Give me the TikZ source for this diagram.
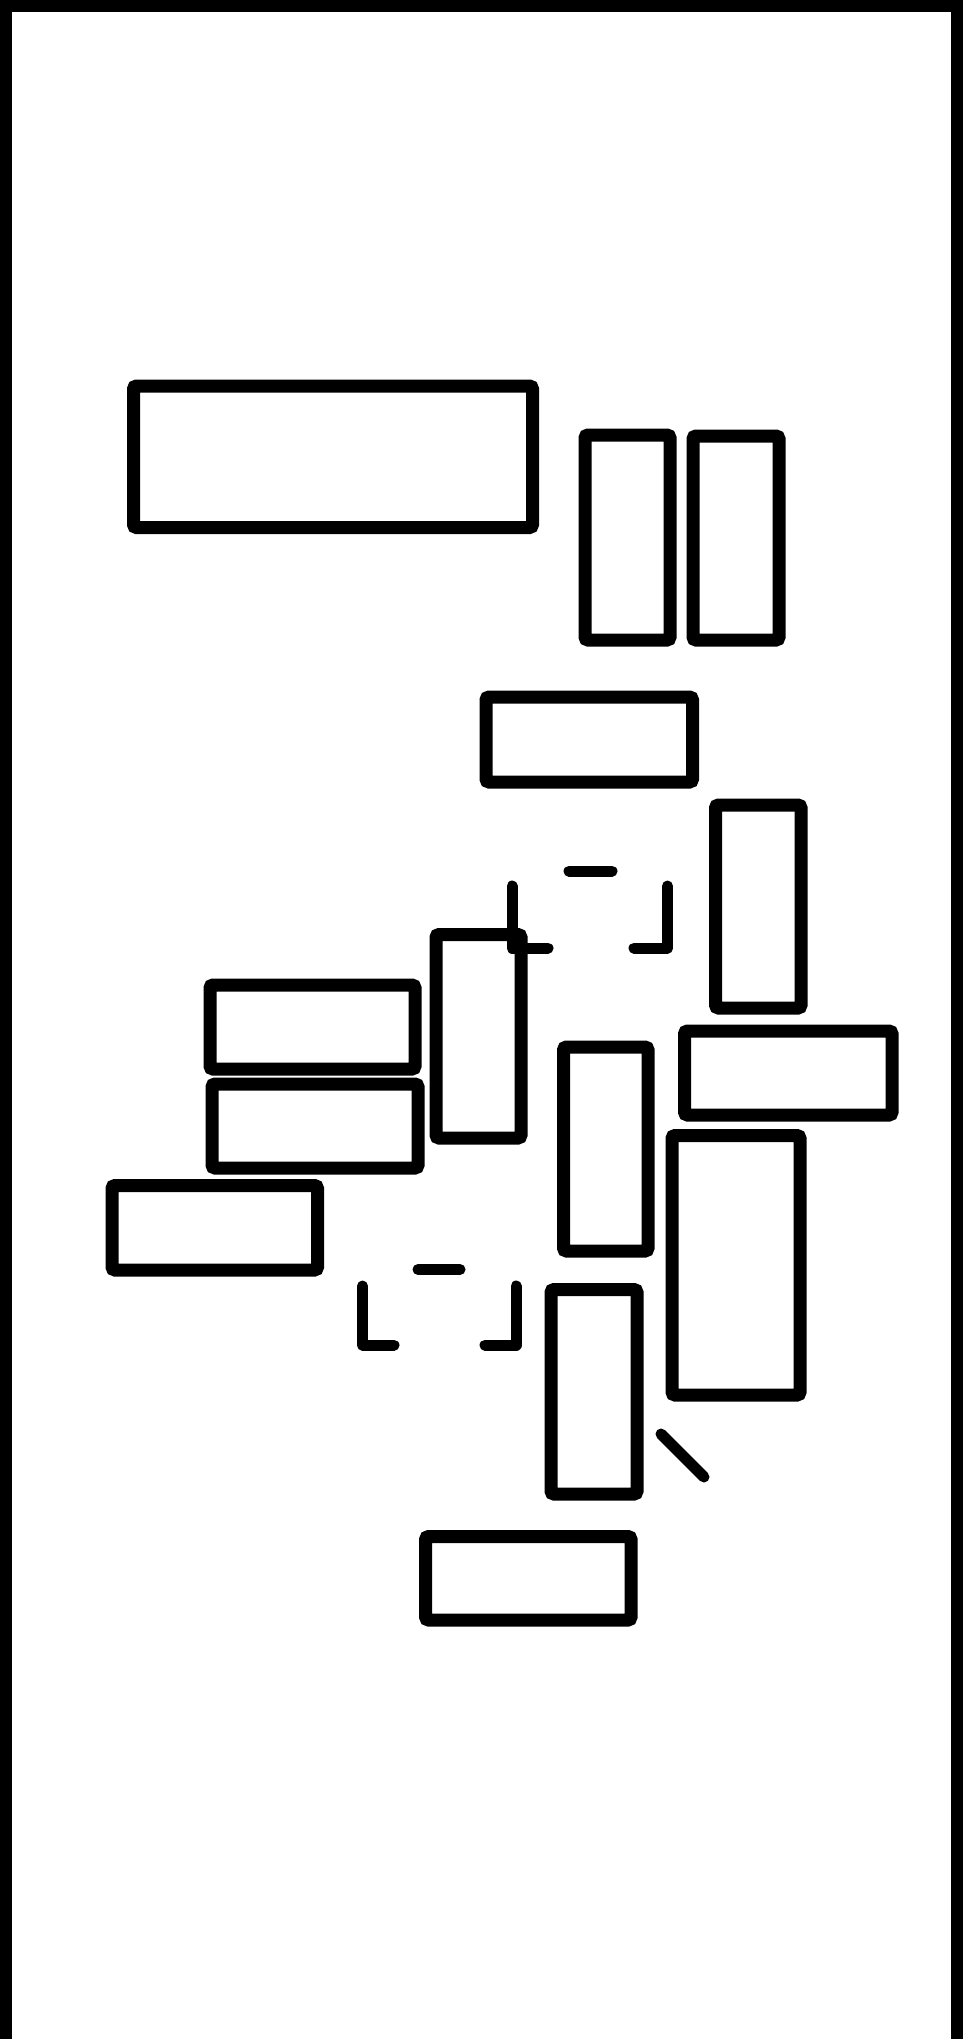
\documentclass[tikz,border=0pt]{standalone}
\begin{document}
\begin{tikzpicture}[x=1pt,y=-1pt,
  box/.style={draw=black,line width=13pt,rounded corners=3pt},
  frame/.style={draw=black,line width=12pt},
  bracket/.style={draw=black,line width=11pt,line cap=round,line join=round}]
\useasboundingbox (0,0) rectangle (963,2039);
\fill[white] (0,0) rectangle (963,2039);
% outer frame
\draw[frame] (6,2045) -- (6,6) -- (957,6) -- (957,2045);
% rectangles
\draw[box] (133.5,386) rectangle (532.5,527.5);
\draw[box] (585,435) rectangle (670,640);
\draw[box] (693,436) rectangle (779,640);
\draw[box] (486,697) rectangle (692.5,782);
\draw[box] (715.5,805) rectangle (801,1008);
\draw[box] (684.5,1031) rectangle (892,1115);
\draw[box] (672,1135.5) rectangle (800,1395);
\draw[box] (563.5,1047) rectangle (648,1251);
\draw[box] (436,934.5) rectangle (521,1138);
\draw[box] (210,985) rectangle (415,1069);
\draw[box] (212,1084) rectangle (418,1168);
\draw[box] (112,1185.5) rectangle (317.5,1270);
\draw[box] (551,1289.5) rectangle (637,1494);
\draw[box] (425.6,1536.5) rectangle (631,1620);
% upper bracket
\draw[bracket] (569,871) -- (612,871);
\draw[bracket] (512,886) -- (512,948) -- (548,948);
\draw[bracket] (634,948) -- (667.5,948) -- (667.5,886);
% lower bracket
\draw[bracket] (418,1269.5) -- (460,1269.5);
\draw[bracket] (362.5,1286) -- (362.5,1345) -- (394,1345);
\draw[bracket] (485,1345) -- (516,1345) -- (516,1286);
% diagonal
\draw[bracket] (661,1434) -- (704,1477);
\end{tikzpicture}
\end{document}
